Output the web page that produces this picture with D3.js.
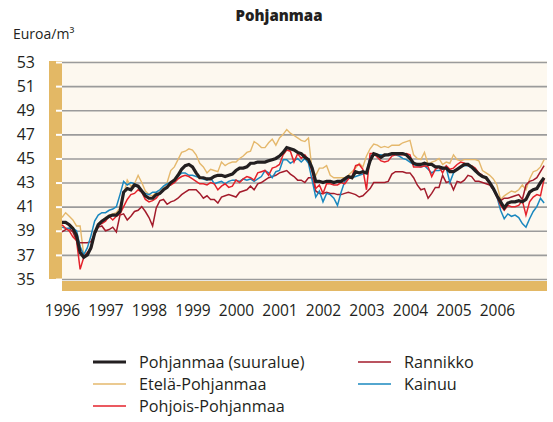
<!DOCTYPE html>
<html>
<head>
<meta charset="utf-8">
<script src="https://cdn.jsdelivr.net/npm/d3@7"></script>
<style>
  html, body { margin: 0; padding: 0; background: #ffffff; }
  svg { display: block; }
  text { font-family: "Open Sans", "Noto Sans", sans-serif; fill: #231f20; }
</style>
</head>
<body>
<svg id="chart" width="553" height="422"></svg>
<script>
// ---------------- DATA ----------------
const startYear = 1996;          // first monthly observation: January 1996
const yearTicks = [1996, 1997, 1998, 1999, 2000, 2001, 2002, 2003, 2004, 2005, 2006];
const valueTicks = [35, 37, 39, 41, 43, 45, 47, 49, 51, 53];
const seriesNames = ["Pohjanmaa (suuralue)", "Etelä-Pohjanmaa", "Pohjois-Pohjanmaa", "Rannikko", "Kainuu"];

// Pohjanmaa (suuralue), euro / m3, monthly
const pohjanmaa = [
  39.7, 39.7, 39.5, 39.2, 38.6, 37.2, 36.8, 37.0, 37.6, 38.8, 39.5, 39.8,
  40.0, 40.2, 40.3, 40.3, 40.6, 42.2, 42.5, 42.4, 42.8, 42.7, 42.3, 41.9,
  41.7, 41.7, 42.0, 42.1, 42.4, 42.6, 43.0, 43.2, 43.6, 44.1, 44.4, 44.5,
  44.3, 43.8, 43.4, 43.4, 43.3, 43.3, 43.5, 43.6, 43.6, 43.5, 43.6, 43.7,
  44.0, 44.2, 44.2, 44.3, 44.6, 44.6, 44.7, 44.7, 44.7, 44.8, 44.9, 45.0,
  45.2, 45.5, 45.9, 45.8, 45.7, 45.5, 45.4, 45.1, 44.9, 44.2, 43.1, 43.1,
  43.0, 43.1, 43.1, 43.0, 43.1, 43.1, 43.3, 43.5, 43.4, 43.9, 43.8, 43.9,
  43.8, 44.8, 45.4, 45.3, 45.1, 45.3, 45.3, 45.4, 45.4, 45.4, 45.4, 45.3,
  45.0, 44.6, 44.5, 44.5, 44.6, 44.5, 44.5, 44.3, 44.3, 44.2, 44.2, 43.9,
  43.9, 44.1, 44.3, 44.5, 44.5, 44.3, 44.0, 43.7, 43.5, 43.4, 43.0, 42.5,
  41.9, 41.4, 40.9, 41.3, 41.4, 41.4, 41.5, 41.4, 41.6, 42.2, 42.4, 42.5,
  43.0, 43.4
];
// Etelä-Pohjanmaa
const etelaPohjanmaa = [
  40.1, 40.5, 40.2, 39.9, 39.4, 39.4, 37.0, 37.2, 37.6, 38.8, 39.4, 39.8,
  40.1, 40.3, 40.4, 40.5, 40.9, 42.0, 43.2, 42.7, 42.9, 43.6, 43.0, 42.3,
  42.0, 41.9, 42.2, 42.4, 42.6, 43.0, 44.0, 44.3, 44.9, 45.5, 45.6, 45.8,
  45.7, 45.3, 44.6, 44.3, 43.8, 44.1, 44.0, 43.9, 44.7, 44.4, 44.6, 44.7,
  44.7, 45.0, 45.2, 45.5, 45.6, 46.4, 46.2, 45.9, 45.9, 46.3, 46.6, 46.1,
  46.7, 47.0, 47.4, 47.1, 46.9, 46.7, 46.5, 46.4, 46.7, 44.0, 43.6, 44.2,
  44.2, 44.4, 43.6, 43.4, 43.4, 43.4, 43.4, 43.6, 43.9, 44.2, 44.6, 44.3,
  45.2, 45.8, 46.2, 46.1, 45.9, 46.0, 45.9, 46.1, 46.1, 46.1, 46.3, 46.4,
  46.5, 45.3, 45.0, 44.9, 45.5, 44.5, 44.7, 44.8, 45.0, 44.5, 44.7, 44.6,
  45.3, 44.9, 44.8, 44.9, 44.9, 44.9, 44.9, 44.8, 44.0, 43.8, 43.6, 43.3,
  42.8, 41.6, 41.9, 42.1, 42.3, 42.2, 42.4, 42.8, 42.4, 43.3, 43.9, 44.0,
  44.3, 44.9
];
// Pohjois-Pohjanmaa
const pohjoisPohjanmaa = [
  39.5, 39.2, 39.0, 38.5, 38.2, 35.8, 36.8, 37.2, 37.5, 38.7, 39.5, 39.6,
  39.8, 40.2, 39.9, 40.2, 40.4, 41.0, 41.6, 42.0, 42.1, 42.4, 42.2, 41.6,
  41.4, 41.5, 41.7, 42.1, 42.4, 42.7, 42.8, 43.0, 43.3, 43.5, 43.6, 43.5,
  43.3, 43.1, 42.9, 42.9, 42.8, 43.0, 42.9, 42.4, 42.7, 42.9, 42.6, 42.7,
  43.2, 43.0, 43.3, 43.5, 43.4, 43.2, 43.8, 43.9, 44.0, 43.6, 44.2, 44.3,
  44.5, 45.3, 45.7, 45.6, 44.7, 45.4, 45.0, 45.3, 44.9, 43.9, 42.5, 42.8,
  42.1, 42.9, 42.9, 42.8, 42.8, 43.0, 42.9, 43.3, 43.5, 44.4, 44.5, 44.1,
  42.4, 45.4, 45.4, 45.1, 44.8, 44.7, 44.8, 45.2, 45.3, 45.3, 45.3, 45.4,
  45.3, 44.3, 44.3, 44.3, 44.4, 44.3, 43.5, 44.1, 44.3, 43.8, 44.4, 44.1,
  44.2, 44.5, 44.7, 44.6, 44.4, 44.4, 44.2, 43.8, 43.6, 43.3, 42.9, 42.5,
  41.8, 41.1, 40.7, 41.1, 41.0, 41.0, 41.1, 41.5, 40.3, 41.4, 41.8, 42.0,
  41.9, 43.3
];
// Rannikko
const rannikko = [
  38.9, 39.1, 39.2, 38.9, 38.2, 38.0, 38.0, 38.0, 38.1, 38.7, 39.3, 39.4,
  39.0, 39.1, 39.3, 38.9, 40.3, 40.4, 39.9, 40.2, 40.6, 40.7, 41.0, 40.6,
  40.1, 39.4, 40.9, 41.5, 41.6, 41.2, 41.4, 41.5, 41.7, 42.0, 42.2, 42.4,
  42.4, 42.4, 42.1, 41.7, 41.9, 41.6, 41.6, 41.3, 41.8, 41.9, 42.0, 41.9,
  41.8, 42.2, 42.3, 42.4, 42.7, 42.4, 42.9, 43.0, 43.2, 43.4, 43.5, 43.6,
  43.8, 43.9, 44.0, 43.7, 43.5, 43.2, 43.2, 43.0, 43.4, 43.4, 42.3, 42.1,
  42.1, 42.2, 42.1, 42.1, 42.0, 42.0, 42.1, 42.2, 42.1, 42.0, 41.8, 41.9,
  42.2, 42.5, 43.0, 43.0, 43.0, 43.0, 43.1, 43.7, 43.9, 43.9, 43.9, 43.8,
  43.8, 43.4, 42.8, 42.4, 42.5, 41.7, 42.1, 42.6, 42.6, 43.6, 43.0, 43.1,
  42.4, 43.1, 43.0, 43.2, 43.6, 43.5, 43.1, 43.1, 43.0, 42.9, 42.8, 42.4,
  41.9, 41.5, 41.7, 41.7, 41.8, 41.9, 42.0, 41.6, 42.8, 43.1, 43.2, 43.4,
  43.9, 44.4
];
// Kainuu
const kainuu = [
  39.3, 39.2, 39.2, 39.2, 39.0, 37.7, 37.0, 37.6, 38.6, 39.8, 40.3, 40.5,
  40.5, 40.7, 40.8, 41.0, 42.0, 43.1, 42.8, 43.0, 42.9, 42.7, 42.3, 42.1,
  42.0, 42.2, 42.2, 42.4, 42.7, 42.9, 43.0, 43.2, 43.5, 43.8, 43.8, 43.6,
  43.6, 43.5, 43.4, 43.3, 43.2, 43.4, 42.9, 43.0, 43.1, 42.9, 43.1, 43.2,
  43.2, 43.1, 43.3, 43.2, 43.3, 43.1, 43.3, 43.5, 44.0, 43.8, 43.4, 43.9,
  44.0, 44.9, 44.9, 44.6, 44.8, 45.0, 44.7, 45.0, 44.6, 43.2, 41.8, 42.3,
  41.4, 42.1, 42.0, 41.7, 41.1, 42.2, 43.1, 43.4, 43.4, 43.5, 43.6, 43.7,
  43.8, 45.2, 45.3, 45.3, 45.3, 45.2, 45.3, 45.3, 45.3, 45.2, 45.0, 44.9,
  44.7, 44.5, 44.4, 44.3, 44.4, 44.1, 43.8, 44.0, 44.0, 44.1, 44.2, 43.0,
  43.8, 44.1, 44.3, 44.4, 44.4, 44.2, 43.9, 43.8, 43.6, 43.4, 43.0, 42.4,
  41.8, 40.7, 40.0, 40.4, 40.2, 40.3, 40.1, 39.6, 39.3, 40.0, 40.6, 41.0,
  41.7, 41.3
];

// ---------------- STYLE ----------------
const plot = { left: 62, right: 547, top: 61, bottom: 280 };
const colors = {
  "Pohjanmaa (suuralue)": "#231f20",
  "Etelä-Pohjanmaa": "#e5b86c",
  "Pohjois-Pohjanmaa": "#e4222b",
  "Rannikko": "#a31b2b",
  "Kainuu": "#1a88bf"
};
const widths = {
  "Pohjanmaa (suuralue)": 3.2,
  "Etelä-Pohjanmaa": 1.4,
  "Pohjois-Pohjanmaa": 1.5,
  "Rannikko": 1.5,
  "Kainuu": 1.5
};
const tan = "#e3b865";
const cream = "#fdf8ef";
const gridColor = "#9b9b9b";

const valuesByName = {
  "Pohjanmaa (suuralue)": pohjanmaa,
  "Etelä-Pohjanmaa": etelaPohjanmaa,
  "Pohjois-Pohjanmaa": pohjoisPohjanmaa,
  "Rannikko": rannikko,
  "Kainuu": kainuu
};

const svg = d3.select("#chart");

const x = d3.scaleLinear().domain([1996, 2007.15]).range([plot.left, plot.right]);
const y = d3.scaleLinear().domain([35, 53]).range([279, 62]);

// Title
svg.append("text")
  .attr("x", 279).attr("y", 21)
  .attr("text-anchor", "middle")
  .style("font-size", "15px").style("font-weight", "800")
  .text("Pohjanmaa");

// Unit label
svg.append("text")
  .attr("x", 13).attr("y", 39)
  .style("font-size", "14px")
  .text("Euroa/m³");

// Plot background
svg.append("rect")
  .attr("x", plot.left).attr("y", plot.top)
  .attr("width", plot.right - plot.left).attr("height", plot.bottom - plot.top)
  .attr("fill", cream);

// Left tan bar
svg.append("rect")
  .attr("x", 49).attr("y", 61)
  .attr("width", plot.left - 49).attr("height", 279 - 61)
  .attr("fill", tan);

// Bottom tan bar
svg.append("rect")
  .attr("x", plot.left).attr("y", 281)
  .attr("width", plot.right - plot.left).attr("height", 10)
  .attr("fill", tan);

// Gridlines via axis
const grid = svg.append("g")
  .attr("transform", `translate(${plot.left},0)`)
  .call(d3.axisLeft(y).tickValues(valueTicks).tickSize(-(plot.right - plot.left)).tickFormat(""));
grid.select(".domain").remove();
grid.selectAll("line").attr("stroke", gridColor).attr("stroke-width", 1.6);

// White small ticks on the left bar
const wt = svg.append("g")
  .attr("transform", `translate(${plot.left},0)`)
  .call(d3.axisLeft(y).tickValues(valueTicks).tickSize(6).tickFormat(""));
wt.select(".domain").remove();
wt.selectAll("line").attr("stroke", "#ffffff").attr("stroke-width", 2);

// Y tick labels
const yLab = svg.append("g")
  .attr("transform", `translate(35,0)`)
  .call(d3.axisLeft(y).tickValues(valueTicks).tickSize(0).tickPadding(0).tickFormat(d3.format("d")));
yLab.select(".domain").remove();
yLab.selectAll("text")
  .style("font-size", "16px")
  .style("font-family", "'Open Sans', sans-serif")
  .attr("fill", "#231f20");

// X tick labels
const xLab = svg.append("g")
  .attr("transform", `translate(0,305)`)
  .call(d3.axisBottom(x).tickValues(yearTicks).tickSize(0).tickPadding(0).tickFormat(d3.format("d")));
xLab.select(".domain").remove();
xLab.selectAll("text")
  .style("font-size", "15.5px")
  .style("font-family", "'Open Sans', sans-serif")
  .attr("fill", "#231f20");

// Lines
const line = d3.line()
  .x((d, i) => x(startYear + i / 12))
  .y(d => y(d));

const drawOrder = ["Etelä-Pohjanmaa", "Rannikko", "Kainuu", "Pohjois-Pohjanmaa", "Pohjanmaa (suuralue)"];
const lines = svg.append("g");
drawOrder.forEach(name => {
  lines.append("path")
    .datum(valuesByName[name])
    .attr("d", line)
    .attr("fill", "none")
    .attr("stroke", colors[name])
    .attr("stroke-width", widths[name])
    .attr("stroke-linejoin", "miter");
});

// Legend
const legendPos = [
  { col: 0, row: 0 }, { col: 0, row: 1 }, { col: 0, row: 2 },
  { col: 1, row: 0 }, { col: 1, row: 1 }
];
const colX = [93, 358];
const rowY = [362, 384, 406];
const legend = svg.append("g");
seriesNames.forEach((name, i) => {
  const p = legendPos[i];
  const lx = colX[p.col], ly = rowY[p.row];
  legend.append("line")
    .attr("x1", lx).attr("x2", lx + 33)
    .attr("y1", ly).attr("y2", ly)
    .attr("stroke", colors[name])
    .attr("stroke-width", i === 0 ? 3 : 1.5);
  legend.append("text")
    .attr("x", lx + 46).attr("y", ly)
    .attr("dy", "0.36em")
    .style("font-size", "16.2px")
    .text(name);
});
</script>
</body>
</html>
